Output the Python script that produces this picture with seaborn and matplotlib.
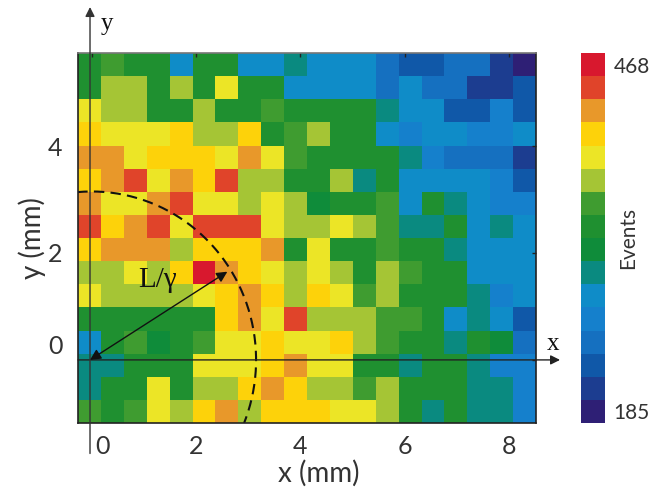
import numpy as np
import matplotlib
matplotlib.use('Agg')
import matplotlib.pyplot as plt
from matplotlib.colors import ListedColormap
from matplotlib.transforms import ScaledTranslation
import seaborn as sns

# event counts per cell (top row first)
events = [
    [336, 353, 336, 336, 282, 336, 336, 282, 282, 300, 282, 282, 282, 247, 229, 229, 247, 247, 212, 194],
    [336, 371, 371, 336, 371, 336, 389, 336, 336, 282, 282, 282, 282, 247, 282, 247, 247, 212, 212, 229],
    [389, 371, 371, 336, 336, 371, 336, 336, 353, 336, 336, 336, 336, 300, 282, 282, 229, 229, 265, 229],
    [406, 389, 389, 389, 406, 371, 371, 406, 336, 353, 371, 336, 336, 282, 265, 282, 282, 265, 265, 282],
    [424, 424, 389, 406, 406, 406, 389, 424, 389, 353, 336, 336, 336, 336, 300, 265, 247, 247, 247, 212],
    [406, 424, 442, 389, 424, 406, 442, 371, 371, 336, 336, 371, 300, 336, 282, 282, 282, 282, 265, 229],
    [424, 389, 389, 424, 442, 389, 389, 371, 389, 371, 318, 336, 336, 353, 282, 336, 300, 282, 265, 265],
    [442, 406, 424, 442, 389, 442, 442, 442, 389, 371, 371, 389, 371, 353, 300, 300, 336, 282, 300, 282],
    [406, 424, 424, 424, 371, 406, 406, 406, 424, 336, 389, 336, 336, 353, 336, 336, 300, 282, 282, 282],
    [371, 371, 389, 371, 406, 459, 424, 406, 389, 371, 389, 371, 336, 371, 353, 336, 336, 282, 282, 282],
    [389, 371, 371, 371, 371, 389, 406, 424, 406, 371, 406, 389, 353, 371, 336, 336, 336, 300, 265, 282],
    [336, 336, 336, 336, 336, 336, 406, 424, 389, 442, 371, 371, 371, 353, 353, 336, 282, 300, 282, 229],
    [282, 336, 353, 318, 336, 353, 389, 389, 406, 389, 389, 406, 371, 353, 336, 336, 300, 336, 318, 247],
    [300, 300, 336, 336, 336, 389, 389, 389, 406, 424, 389, 389, 336, 336, 300, 336, 336, 300, 265, 265],
    [300, 336, 336, 389, 336, 371, 371, 406, 424, 406, 371, 371, 353, 371, 336, 336, 336, 300, 300, 265],
    [353, 336, 353, 389, 371, 406, 424, 371, 406, 406, 406, 389, 389, 371, 336, 300, 336, 300, 300, 265],
]
band_colors = ['#2e1f75', '#1c3d90', '#1058a8', '#1570c0', '#1580cc', '#0f8cc8', '#0a8a80', '#0f8c3a',
               '#1f9030', '#3f9c30', '#a5c535', '#ece526', '#fdd20a', '#e8982a', '#e0442a', '#d8182e']
x_ticks = [0, 2, 4, 6, 8]
y_ticks = [0, 2, 4]
cbar_ticks = [194, 459]
cbar_labels = ['185', '468']
radius = 3.15

sns.set_style('white')
plt.rcParams['font.family'] = ['Lato', 'DejaVu Sans']
text_color = '#333333'

W, H = 658, 491
fig = plt.figure(figsize=(W / 100, H / 100), dpi=100)
pos = [78 / W, 1 - 423 / H, (536 - 78) / W, (423 - 53) / H]
ax = fig.add_axes(pos)
cax = fig.add_axes([581 / W, 1 - 423 / H, 24 / W, (423 - 53) / H])

cmap = ListedColormap(band_colors)
sns.heatmap(np.array(events), ax=ax, cbar_ax=cax, cmap=cmap, vmin=185, vmax=468,
            xticklabels=False, yticklabels=False)

# colourbar
cbar = ax.collections[0].colorbar
cbar.set_ticks(cbar_ticks, labels=cbar_labels)
cbar.outline.set_visible(False)
cax.tick_params(length=0, labelsize=15, pad=6, labelcolor=text_color)
cax.set_ylabel('Events', fontsize=15, color=text_color)
cax.yaxis.set_label_coords(1.55, 0.5)

# overlay in mm
ov = fig.add_axes(pos, facecolor='none')
ov.set_xlim(-0.26, 8.51)
ov.set_ylim(-1.18, 5.74)
ov.set_xticks(x_ticks, labels=[str(v) for v in x_ticks])
ov.set_yticks(y_ticks, labels=[str(v) for v in y_ticks])
ov.tick_params(direction='in', length=3, width=1, top=True, right=True, color='#222222')
ov.tick_params(axis='x', labelsize=18, pad=9, labelcolor=text_color)
ov.tick_params(axis='y', labelsize=18, pad=11, labelcolor=text_color)
for s in ov.spines.values():
    s.set_visible(True)
    s.set_color('#222222')
    s.set_linewidth(1.2)
ov.spines['top'].set_color('#777777')

# the 0 labels sit away from the axes crossing
lab = ov.get_xticklabels()[0]
lab.set_transform(lab.get_transform() + ScaledTranslation(11 / 100, 0, fig.dpi_scale_trans))
lab = ov.get_yticklabels()[0]
lab.set_transform(lab.get_transform() + ScaledTranslation(0, 15 / 100, fig.dpi_scale_trans))

ov.set_xlabel('x (mm)', fontsize=20, color=text_color)
ov.set_ylabel('y (mm)', fontsize=20, color=text_color)
ov.xaxis.set_label_coords(0.525, -0.1)
ov.yaxis.set_label_coords(-0.07, 0.5)

# beam axes
ov.annotate('', xy=(8.97, 0), xytext=(-0.26, 0), annotation_clip=False,
            arrowprops=dict(arrowstyle='-|>', color='#222222', lw=1, mutation_scale=14, shrinkA=0, shrinkB=0))
ov.annotate('', xy=(-0.03, 6.6), xytext=(-0.03, -1.75), annotation_clip=False,
            arrowprops=dict(arrowstyle='-|>', color='#333333', lw=1, mutation_scale=14, shrinkA=0, shrinkB=0))
ov.text(8.83, 0.3, 'x', fontsize=18, family='Liberation Serif', color='#111111', ha='center', va='center', clip_on=False)
ov.text(0.3, 6.28, 'y', fontsize=18, family='Liberation Serif', color='#111111', ha='center', va='center', clip_on=False)

# dashed arc at L/gamma
theta = np.radians(np.linspace(95, -22, 200))
ov.plot(radius * np.cos(theta), radius * np.sin(theta), color='#111111', lw=1.5, ls=(0, (5, 3)))
ov.annotate('', xy=(2.6, 1.65), xytext=(-0.03, 0),
            arrowprops=dict(arrowstyle='<|-|>', color='#111111', lw=1, mutation_scale=16, shrinkA=0, shrinkB=0))
ov.text(1.26, 1.5, 'L/γ', fontsize=21, family='Liberation Serif', color='#111111', ha='center', va='center')

plt.savefig('out.png', dpi=100)
